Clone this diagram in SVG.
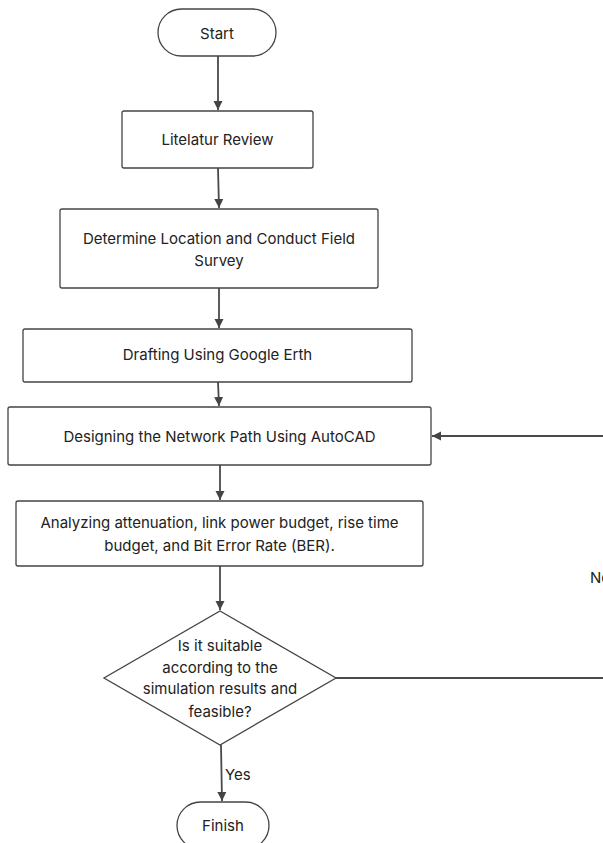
<svg xmlns="http://www.w3.org/2000/svg" width="603" height="843" viewBox="0 0 603 843">
<defs>
<marker id="arr" markerWidth="10" markerHeight="10" refX="9" refY="5" orient="auto" markerUnits="userSpaceOnUse">
<path d="M0,0.5 L9,5 L0,9.5 Z" fill="#444"/>
</marker>
</defs>
<style>
.box{fill:#fff;stroke:#444;stroke-width:1.3}
.t{font-family:Inter,"Liberation Sans",sans-serif;font-size:15px;fill:#222;text-anchor:middle}
.c{fill:none;stroke:#4a4a4a;stroke-width:1.8}
.lbl{font-family:Inter,"Liberation Sans",sans-serif;font-size:15px;fill:#222}
</style>
<rect width="603" height="843" fill="#fff"/>
<g id="connectors">
<line class="c" x1="218" y1="56" x2="218" y2="110" marker-end="url(#arr)"/>
<line class="c" x1="218" y1="168" x2="219" y2="208" marker-end="url(#arr)"/>
<line class="c" x1="219" y1="288" x2="219" y2="328" marker-end="url(#arr)"/>
<line class="c" x1="218" y1="382" x2="219" y2="406" marker-end="url(#arr)"/>
<line class="c" x1="220" y1="465" x2="220" y2="500" marker-end="url(#arr)"/>
<line class="c" x1="220" y1="566" x2="220" y2="610" marker-end="url(#arr)"/>
<line class="c" x1="221" y1="745" x2="222" y2="801" marker-end="url(#arr)"/>
<line class="c" x1="335" y1="678" x2="603" y2="678" stroke="#666"/>
<line class="c" x1="603" y1="436" x2="432" y2="436" marker-end="url(#arr)"/>
<text class="lbl" x="225" y="780">Yes</text>
<text class="lbl" x="590" y="583">No</text>
</g>
<g id="start">
<rect class="box" x="158" y="9" width="118" height="47" rx="23.5"/>
<text class="t" x="217" y="39">Start</text>
</g>
<g id="literature">
<rect class="box" x="122" y="111" width="191" height="57" rx="2"/>
<text class="t" x="217.5" y="145">Litelatur Review</text>
</g>
<g id="survey">
<rect class="box" x="60" y="209" width="318" height="79" rx="2"/>
<text class="t" x="219" y="244">Determine Location and Conduct Field</text>
<text class="t" x="219" y="266">Survey</text>
</g>
<g id="drafting">
<rect class="box" x="23" y="329" width="389" height="53" rx="2"/>
<text class="t" x="217.5" y="360">Drafting Using Google Erth</text>
</g>
<g id="designing">
<rect class="box" x="8" y="407" width="423" height="58" rx="2"/>
<text class="t" x="219.5" y="442">Designing the Network Path Using AutoCAD</text>
</g>
<g id="analyzing">
<rect class="box" x="16" y="501" width="407" height="65" rx="2"/>
<text class="t" x="219.5" y="528">Analyzing attenuation, link power budget, rise time</text>
<text class="t" x="219.5" y="551">budget, and Bit Error Rate (BER).</text>
</g>
<g id="decision">
<polygon class="box" points="220,611 336,678 220,745 104,678"/>
<text class="t" x="220" y="651">Is it suitable</text>
<text class="t" x="220" y="673">according to the</text>
<text class="t" x="220" y="694">simulation results and</text>
<text class="t" x="220" y="717">feasible?</text>
</g>
<g id="finish">
<rect class="box" x="177" y="802" width="92" height="47" rx="23.5"/>
<text class="t" x="223" y="831">Finish</text>
</g>
</svg>
